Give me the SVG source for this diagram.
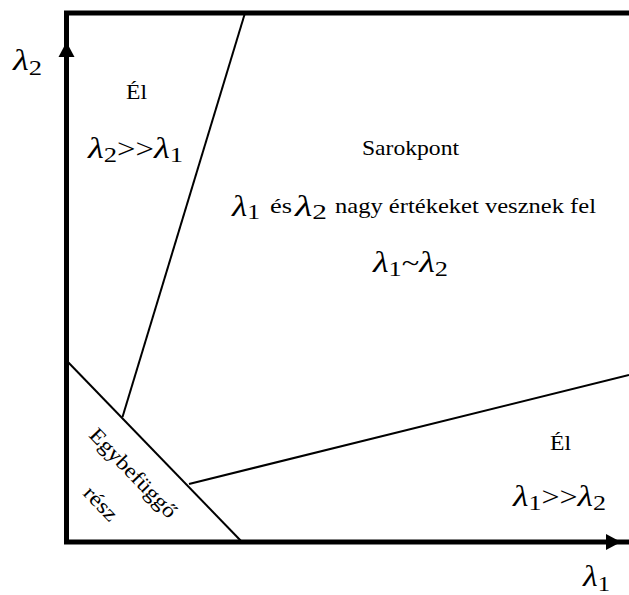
<svg xmlns="http://www.w3.org/2000/svg" width="629" height="595" viewBox="0 0 629 595">
<style>
.ax{stroke:#000;stroke-width:5;fill:none}
.ln{stroke:#000;stroke-width:2;fill:none}
.t{font-family:"Liberation Serif","Times New Roman","DejaVu Serif",serif;font-size:21px;fill:#000}
.m{font-family:"Liberation Serif","Times New Roman","DejaVu Serif",serif;font-size:30px;font-style:italic;fill:#000}
.s{font-size:22px;font-style:normal}
.o{font-size:27px;font-style:normal}
</style>
<rect width="629" height="595" fill="#fff"/>
<g id="connectors">
<line class="ln" x1="245" y1="13" x2="122.5" y2="417"/>
<line class="ln" x1="66" y1="360" x2="242" y2="542"/>
<line class="ln" x1="189" y1="484" x2="629" y2="375"/>
</g>
<g id="axes">
<polyline class="ax" points="629,13 66.5,13 66.5,544"/>
<line class="ax" x1="64" y1="542" x2="629" y2="542"/>
<polygon points="66.5,42 58.5,57 74.5,57" fill="#000"/>
<polygon points="621,542 606,534 606,550" fill="#000"/>
</g>
<g id="axis-labels">
<text class="m" x="13" y="70" textLength="29" lengthAdjust="spacingAndGlyphs">λ<tspan class="s" dy="5">2</tspan></text>
<text class="m" x="583" y="586" textLength="27" lengthAdjust="spacingAndGlyphs">λ<tspan class="s" dy="5">1</tspan></text>
</g>
<g id="region-edge-top">
<text class="t" x="126" y="99" textLength="21" lengthAdjust="spacingAndGlyphs">Él</text>
<text class="m" x="88" y="158" textLength="95" lengthAdjust="spacingAndGlyphs">λ<tspan class="s" dy="4">2</tspan><tspan class="o" dy="-4">&gt;&gt;</tspan>λ<tspan class="s" dy="4">1</tspan></text>
</g>
<g id="region-corner">
<text class="t" x="362" y="155" textLength="97" lengthAdjust="spacingAndGlyphs">Sarokpont</text>
<text class="m" x="232" y="216" textLength="28" lengthAdjust="spacingAndGlyphs">λ<tspan class="s" dy="3">1</tspan></text>
<text class="t" x="270" y="213" textLength="22" lengthAdjust="spacingAndGlyphs">és</text>
<text class="m" x="295" y="216" textLength="32" lengthAdjust="spacingAndGlyphs">λ<tspan class="s" dy="3">2</tspan></text>
<text class="t" x="335" y="213" textLength="261" lengthAdjust="spacingAndGlyphs">nagy értékeket vesznek fel</text>
<text class="m" x="373" y="272" textLength="75" lengthAdjust="spacingAndGlyphs">λ<tspan class="s" dy="4">1</tspan><tspan class="o" dy="-4">~</tspan>λ<tspan class="s" dy="4">2</tspan></text>
</g>
<g id="region-edge-bottom">
<text class="t" x="550" y="450" textLength="21" lengthAdjust="spacingAndGlyphs">Él</text>
<text class="m" x="513" y="506" textLength="93" lengthAdjust="spacingAndGlyphs">λ<tspan class="s" dy="4">1</tspan><tspan class="o" dy="-4">&gt;&gt;</tspan>λ<tspan class="s" dy="4">2</tspan></text>
</g>
<g id="region-flat">
<text class="t" transform="translate(88,436) rotate(46)" textLength="116" lengthAdjust="spacingAndGlyphs">Egybefüggő</text>
<text class="t" transform="translate(82,494) rotate(46)" textLength="40" lengthAdjust="spacingAndGlyphs">rész</text>
</g>
</svg>
